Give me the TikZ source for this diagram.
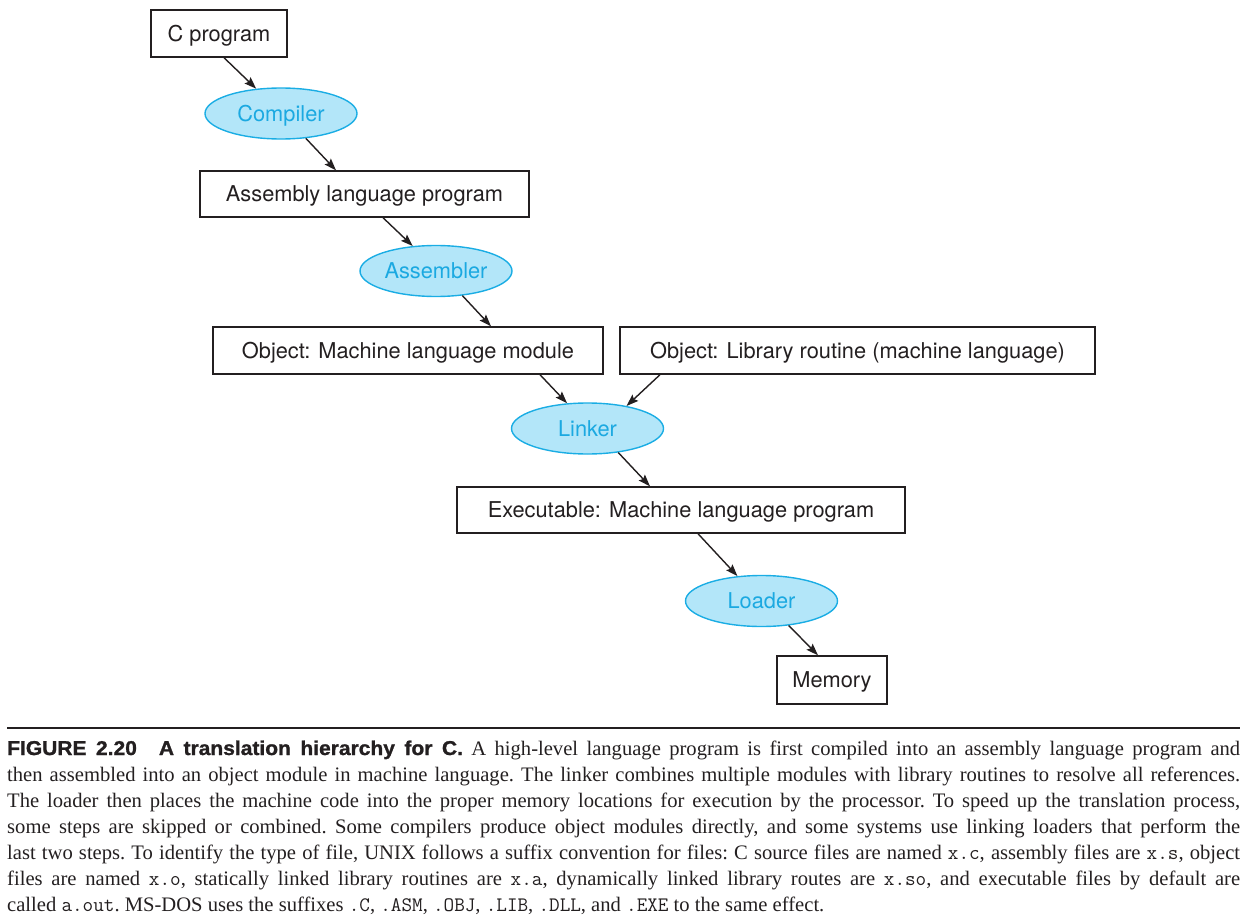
\documentclass[tikz,border=0pt]{standalone}
\usepackage{fontspec}
\setmainfont{Liberation Serif}
\newfontfamily\boxfont{TeX Gyre Heros}
\newfontfamily\headfont[FakeStretch=1.05,FakeBold=1.2]{Liberation Sans}
\usetikzlibrary{arrows.meta,shapes.geometric}
\definecolor{ink}{HTML}{231F20}
\definecolor{toolfill}{HTML}{B3E6F9}
\definecolor{toolline}{HTML}{1AADE4}
\definecolor{tooltext}{HTML}{1BA9E1}
\tikzset{
  filebox/.style={draw=ink, line width=1.4pt, rectangle, inner sep=0pt,
    text=ink, font=\boxfont\fontsize{21.8}{26}\selectfont,
    text height=15.7pt, text depth=0pt, minimum height=47pt},
  tool/.style={draw=toolline, fill=toolfill, line width=1.4pt, ellipse,
    inner sep=0pt, minimum width=152pt, minimum height=51pt,
    text=tooltext, font=\boxfont\fontsize{21.8}{26}\selectfont,
    text height=15.7pt, text depth=0pt},
  arr/.style={draw=ink, line width=1.4pt,
    -{Stealth[length=12pt,width=8.5pt,inset=2pt]}},
  capline/.style={anchor=base west, inner sep=0pt, text=ink,
    font=\frenchspacing\fontsize{20.6}{26}\selectfont}
}
\newcommand{\sfx}[1]{\texttt{#1}}
\begin{document}
\begin{tikzpicture}[x=1pt,y=-1pt]
\useasboundingbox (0,0) rectangle (1247,923);

% files
\node[filebox, minimum width=136pt] (cprog) at (219,33.5) {C program};
\node[filebox, minimum width=329pt, minimum height=46pt] (asm) at (364.5,194) {Assembly language program};
\node[filebox, minimum width=390pt] (objm) at (408,350.5) {Object: Machine language module};
\node[filebox, minimum width=475pt] (lib) at (857.5,350.5) {Object: Library routine (machine language)};
\node[filebox, minimum width=448pt, minimum height=46pt] (exe) at (681,510) {Executable: Machine language program};
\node[filebox, minimum width=110pt, minimum height=48pt] (mem) at (832,680) {Memory};

% tools
\node[tool] (comp) at (281,113.5) {Compiler};
\node[tool] (asmr) at (436,271) {Assembler};
\node[tool] (link) at (587.5,428.5) {Linker};
\node[tool] (load) at (761.5,601) {Loader};

% flow
\draw[arr] ([xshift=5pt]cprog.south) -- (comp.135);
\draw[arr] (comp.-45) -- ([xshift=-28.5pt]asm.north);
\draw[arr] ([xshift=18.5pt]asm.south) -- (asmr.133);
\draw[arr] (asmr.-43) -- ([xshift=83pt]objm.north);
\draw[arr] ([xshift=132pt]objm.south) -- (link.129);
\draw[arr] ([xshift=-197.5pt]lib.south) -- (link.30);
\draw[arr] (link.-38) -- ([xshift=-31pt]exe.north);
\draw[arr] ([xshift=17pt]exe.south) -- (load.134);
\draw[arr] (load.-42) -- ([xshift=-14pt]mem.north);

% caption
\draw[ink, line width=2pt] (7,728) -- (1240,728);
\node[capline] (cap1) at (7,755) {\hbox to 1233pt{{\headfont\bfseries\fontsize{20}{26}\selectfont FIGURE 2.20\hspace{22pt}A translation hierarchy for C.} A high-level language program is first compiled into an assembly language program and}};
\node[capline] (cap2) at (7,781) {\hbox to 1233pt{then assembled into an object module in machine language. The linker combines multiple modules with library routines to resolve all references.}};
\node[capline] (cap3) at (7,807) {\hbox to 1233pt{The loader then places the machine code into the proper memory locations for execution by the processor. To speed up the translation process,}};
\node[capline] (cap4) at (7,833) {\hbox to 1233pt{some steps are skipped or combined. Some compilers produce object modules directly, and some systems use linking loaders that perform the}};
\node[capline] (cap5) at (7,859) {\hbox to 1233pt{last two steps. To identify the type of file, UNIX follows a suffix convention for files: C source files are named \sfx{x.c}, assembly files are \sfx{x.s}, object}};
\node[capline] (cap6) at (7,885) {\hbox to 1233pt{files are named \sfx{x.o}, statically linked library routines are \sfx{x.a}, dynamically linked library routes are \sfx{x.so}, and executable files by default are}};
\node[capline] (cap7) at (7,911) {called \sfx{a.out}. MS-DOS uses the suffixes \sfx{.C}, \sfx{.ASM}, \sfx{.OBJ}, \sfx{.LIB}, \sfx{.DLL}, and \sfx{.EXE} to the same effect.};
\end{tikzpicture}
\end{document}
